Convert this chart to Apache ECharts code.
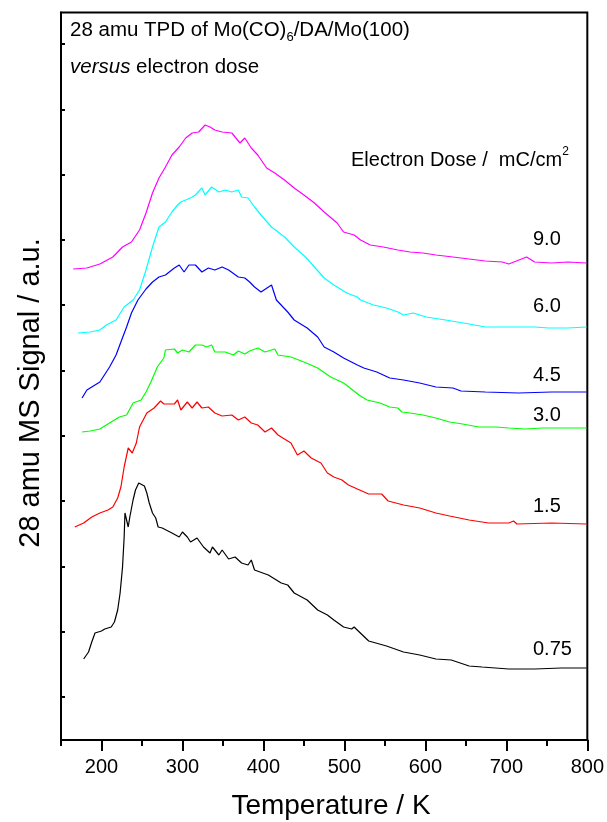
<!DOCTYPE html>
<html><head><meta charset="utf-8">
<script src="https://cdn.jsdelivr.net/npm/echarts@6/dist/echarts.min.js"></script>
<style>html,body{margin:0;padding:0;background:#fff}#c{width:607px;height:822px}</style>
</head><body><div id="c"></div>
<script>
const FONT = "'Liberation Sans', Arial, Helvetica, sans-serif";

const doseLabels = ['0.75', '1.5', '3.0', '4.5', '6.0', '9.0'];
const doseColors = ['#000000', '#ff0000', '#00ff00', '#0000ff', '#00ffff', '#ff00ff'];

const temp075 = [178,184,188,192,200,204,208,212,216,220,223,226,228,229,231,233,235,239,242,246,253,256,259,263,267,270,275,287,296,300,306,310,318,326,334,337,345,349,357,365,373,381,385,389,406,422,430,438,454,467,479,487,499,509,512,530,552,573,593,613,632,654,670,703,735,768,788,799];
const sig075  = [38,45,55,64,66,68,69,70,75,87,104,130,160,184,184,170,180,197,207,214,211,204,194,184,179,170,169,164,160,165,160,155,159,150,144,150,142,147,138,140,134,132,137,127,122,114,112,104,97,87,82,77,70,68,70,56,51,45,42,38,37,31,30,28,28,29,29,29];

const temp15 = [167,178,188,198,208,214,220,224,228,233,235,238,243,247,256,265,273,277,290,294,298,306,312,318,324,332,340,349,361,369,377,385,393,402,410,418,434,442,450,459,471,479,487,497,505,516,530,546,554,573,593,613,630,654,678,703,709,713,756,799];
const sig15  = [170,174,180,184,187,190,199,210,230,249,250,244,254,270,284,289,296,293,293,297,287,295,289,295,289,290,284,281,282,277,280,274,272,265,269,262,254,242,246,239,234,224,220,217,212,208,203,203,196,192,189,184,181,177,174,174,176,173,174,173];

const temp30 = [176,186,198,210,222,231,239,249,255,261,269,277,279,290,294,300,308,316,324,330,336,340,353,363,369,377,383,393,402,414,418,434,450,467,483,499,507,518,528,544,556,566,571,581,597,613,630,646,666,687,703,723,744,776,799];
const sig30  = [265,266,268,274,280,282,294,297,305,315,330,339,347,348,344,347,345,352,352,350,352,345,345,342,346,343,346,349,345,348,342,340,335,329,320,314,309,302,297,294,290,289,285,284,282,279,275,273,270,270,269,268,269,269,269];

const temp45 = [176,182,190,198,202,210,218,224,231,237,245,255,263,271,279,290,296,302,308,316,324,332,340,349,357,369,377,383,389,397,410,416,430,438,454,467,475,487,499,516,524,540,556,573,593,613,634,644,674,715,756,799];
const sig45  = [299,307,311,315,320,330,342,355,370,384,397,408,415,420,422,429,432,425,432,432,425,429,427,430,427,420,419,415,410,405,412,397,385,377,369,360,350,345,339,332,329,325,319,317,314,310,309,306,305,304,305,305];

const temp60 = [171,186,198,206,218,228,239,247,255,263,271,279,287,294,298,304,312,316,324,328,336,345,353,361,369,373,381,389,397,410,426,438,452,463,475,487,503,516,520,536,552,566,573,585,601,625,654,674,703,735,752,776,799];
const sig60  = [364,365,367,372,377,390,397,407,427,450,470,475,485,492,495,497,500,502,509,502,510,505,507,505,507,500,499,490,482,470,460,450,440,430,419,412,404,400,397,392,389,385,382,384,380,377,373,370,370,370,369,369,370];

const temp90 = [165,182,198,214,226,237,247,255,263,271,279,287,296,304,312,320,328,334,340,349,361,371,377,385,393,404,414,426,438,450,463,475,491,499,512,520,532,548,566,581,597,613,634,654,674,695,703,725,735,756,776,799];
const sig90  = [428,429,433,440,450,455,467,484,504,519,530,542,550,559,564,565,572,570,567,565,564,554,559,549,542,529,524,517,509,502,494,485,474,465,462,457,452,450,447,445,444,442,440,438,436,435,433,440,435,434,435,434];

const xMajorTicks = [200, 300, 400, 500, 600, 700, 800];
const yTickValues = [0, 65.3, 130.6, 195.9, 261.2, 326.5, 391.8, 457.1, 522.4, 587.7, 653];

const temps = [temp075, temp15, temp30, temp45, temp60, temp90];
const sigs = [sig075, sig15, sig30, sig45, sig60, sig90];

function pairs(t, s) { return t.map((x, i) => [x, s[i]]); }

const chart = echarts.init(document.getElementById('c'), null, {renderer: 'canvas'});

const series = temps.map((t, k) => ({
  type: 'line',
  name: doseLabels[k],
  data: pairs(t, sigs[k]),
  showSymbol: false,
  symbol: 'none',
  lineStyle: {color: doseColors[k], width: 1.2},
  itemStyle: {color: doseColors[k]},
  z: 3
}));

const labelY = {'9.0': 239, '6.0': 306, '4.5': 375, '3.0': 415, '1.5': 506, '0.75': 649.5};

const graphics = [
  {type: 'text', left: 70, top: 17, style: {
    text: '28 amu TPD of Mo(CO){sub|6}/DA/Mo(100)',
    font: '20.5px ' + FONT, fill: '#000',
    rich: {sub: {fontSize: 13, fontFamily: FONT, lineHeight: 13, padding: [14, 0, 0, 0]}}
  }},
  {type: 'text', left: 70, top: 57, style: {
    text: '{i|versus} electron dose',
    font: '20.5px ' + FONT, fill: '#000',
    rich: {i: {fontStyle: 'italic', fontSize: 20.5, fontFamily: FONT}}
  }},
  {type: 'text', x: 351, y: 160, style: {
    text: 'Electron Dose /  mC/cm{sup|2}',
    font: '20px ' + FONT, fill: '#000', verticalAlign: 'middle',
    rich: {sup: {fontSize: 12, fontFamily: FONT, lineHeight: 12, padding: [0, 0, 16, 0]}}
  }},
  {type: 'text', x: 331, y: 806, style: {
    text: 'Temperature / K', font: '28px ' + FONT, fill: '#000', align: 'center', verticalAlign: 'middle'
  }},
  {type: 'text', x: 31, y: 393, rotation: Math.PI / 2, style: {
    text: '28 amu MS Signal / a.u.', font: '29px ' + FONT, fill: '#000', align: 'center', verticalAlign: 'middle'
  }}
];
doseLabels.forEach(d => {
  graphics.push({type: 'text', x: 533, y: labelY[d], style: {
    text: d, font: '20px ' + FONT, fill: '#000', verticalAlign: 'middle'
  }});
});

const baseX = {
  type: 'value', min: 150, max: 800, position: 'bottom',
  splitLine: {show: false},
  axisLine: {show: true, onZero: false, lineStyle: {color: '#000', width: 2}}
};

chart.setOption({
  animation: false,
  backgroundColor: '#fff',
  grid: {left: 61, right: 14, top: 12.5, bottom: 82, show: true, borderColor: '#000', borderWidth: 2, backgroundColor: 'transparent'},
  xAxis: [
    Object.assign({}, baseX, {
      interval: 50,
      axisTick: {show: true, inside: false, length: 6, lineStyle: {color: '#000', width: 2}},
      axisLabel: {show: false}
    }),
    Object.assign({}, baseX, {
      axisTick: {show: true, inside: false, length: 11, customValues: xMajorTicks, lineStyle: {color: '#000', width: 2}},
      axisLabel: {show: true, customValues: xMajorTicks, margin: 17, fontSize: 20, fontFamily: FONT, color: '#000'}
    })
  ],
  yAxis: {
    type: 'value', min: -43, max: 684.5, position: 'left',
    splitLine: {show: false},
    axisLine: {show: true, onZero: false, lineStyle: {color: '#000', width: 2}},
    axisTick: {show: true, inside: true, length: 4, customValues: yTickValues, lineStyle: {color: '#000', width: 2}},
    axisLabel: {show: false}
  },
  series: series,
  graphic: graphics
});
</script></body></html>
